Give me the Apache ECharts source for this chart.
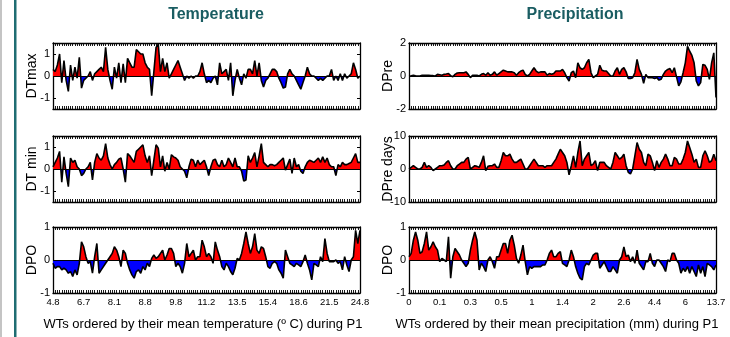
<!DOCTYPE html>
<html><head><meta charset="utf-8">
<script src="https://cdn.jsdelivr.net/npm/echarts@6/dist/echarts.min.js"></script>
<style>html,body{margin:0;padding:0;background:#fff}#c{width:730px;height:337px}</style>
</head><body><div id="c"></div>
<script>
const tempLabels = ['4.8','6.7','8.1','8.8','9.8','11.2','13.5','15.4','18.6','21.5','24.8'];
const precLabels = ['0','0.1','0.3','0.5','1','1.4','2','2.6','4.4','6','13.7'];

const dtmax = [0.3,0.2,0.5,1.0,-0.3,0.7,-0.2,-0.7,0.5,-0.2,0.4,-0.1,0.85,-0.55,-0.2,-0.1,0,0.2,-0.2,0.1,
0.2,0.3,0.4,0.2,1.3,0.3,-0.2,-0.6,0.4,-0.1,0.6,-0.3,0.55,-0.3,0.8,0.6,0.4,0.4,1.2,1.1,
1.0,1.0,0.6,0.4,0.3,-0.9,0.2,1.3,1.45,0.2,0.8,0.2,0.6,-0.1,0.1,0.3,0.5,0.7,0.4,0.1,
-0.2,0,-0.1,0,-0.1,0,0,0.2,0.6,0.1,-0.3,-0.2,-0.3,-0.1,0,-0.4,0.6,0.1,0.2,0.3,
-0.2,0.6,-0.9,-0.2,0.3,-0.1,-0.4,0.1,-0.1,0.3,0.3,0.1,0.7,0,0.6,-0.2,-0.5,-0.2,-0.1,0.1,
0.3,0.3,0.2,-0.1,-0.3,-0.55,-0.5,0.1,0.3,0.1,0,-0.2,-0.4,-0.6,-0.3,0,0.4,0.1,0,0,
-0.1,-0.2,-0.1,-0.2,-0.1,0,0,0.3,-0.2,0,-0.2,0.1,-0.2,0.1,-0.1,0,0.1,0.6,0.3,-0.1,0];

const dtmin = [0.1,0.3,0.5,0.8,-0.6,0.55,-0.2,-0.8,0.5,0.3,0.4,0.1,0,-0.3,-0.2,0,0.1,0.3,-0.5,0.3,
0.7,0.5,0.4,0.6,1.15,0.5,0.2,0,0.2,0.3,0.45,0.5,0,-0.6,0.7,0.6,0.45,0.3,0.8,0.9,
1.0,1.1,0.6,0.3,0.6,-0.3,0.4,1.1,0.95,0.1,0.6,-0.1,0.3,0,0.65,0.55,0.5,0.4,0.1,0,
-0.1,-0.4,0.1,0.45,0.4,0.1,0.4,0.2,0.3,0.4,0.1,-0.3,0.1,0.4,0.45,0.2,0.1,0.4,0.1,0.2,
0.5,0.3,0.1,0.5,0.1,0.1,-0.1,-0.55,-0.5,0.6,0.3,0.5,0.75,0.1,0.6,1.15,0.3,0.2,0.1,0.2,
0.2,0.15,0.2,0.3,0.4,0.5,-0.05,0.2,0.45,-0.2,0.5,0.1,0.2,-0.1,-0.2,0.1,0.3,0.4,0.35,0.3,
0.4,0.5,0.3,0.55,0.3,0.5,0.2,0.1,0.1,-0.3,0.2,0.1,0.3,0.2,0.2,0.25,0.3,0.5,0.7,0.3,0.3];

const dpoTemp = [-0.1,-0.25,-0.2,-0.2,-0.3,-0.25,-0.3,-0.4,-0.35,-0.5,-0.3,-0.45,-0.1,0.55,0.4,0.1,-0.1,-0.05,-0.4,0.1,
0.5,-0.4,-0.3,-0.2,-0.1,0,0.1,0.2,0.4,0.3,0.1,-0.2,0.3,0.2,-0.1,-0.3,-0.45,-0.55,-0.35,-0.3,
-0.4,-0.2,-0.3,-0.1,-0.2,0.05,0.15,0.05,0.1,0.2,0.3,0,0.15,0.35,0.35,0.2,-0.2,-0.1,-0.2,-0.4,
-0.1,0.5,0.1,0.2,0.3,0,0.1,0.1,0.6,0.4,0.1,0.2,0.1,-0.1,0.55,0.3,0.1,-0.2,-0.3,-0.1,
-0.2,-0.35,-0.45,-0.25,0.05,0,0.2,0.5,0.85,0.5,0.2,0.4,0.8,0.3,0.2,0.4,0.35,0.1,-0.2,-0.25,
-0.1,-0.05,-0.1,-0.3,-0.4,-0.55,0.3,0.1,-0.1,-0.15,-0.2,-0.1,-0.15,-0.2,-0.05,0.15,-0.1,-0.3,-0.6,-0.1,
-0.15,-0.2,0.1,-0.05,0.65,0.2,-0.05,-0.05,-0.05,0,-0.1,-0.05,-0.3,0.1,-0.15,-0.35,0,0.1,0.9,0.5,0.9];

const dpre = [0,0.02,0.05,0.02,0,0,0.05,0.05,0.04,0.05,0.03,0.02,0,0.1,0.08,0.05,0.1,0.12,0.15,0.02,
-0.05,0.1,0.18,0.2,0.2,0.2,0.25,0.1,-0.1,0.05,0.05,0.05,0,0.1,0.15,0.05,0.2,0.05,0.1,0.25,
0.05,0.15,0.25,0.35,0.3,0.25,0.25,0.25,0.2,0.05,0.2,0.3,0.35,0.1,0,0.1,0.3,0.5,0.3,0.2,
0.25,0.25,0.25,0.05,0.15,0.1,0.15,0.3,0.3,0.3,0.4,0.2,-0.1,-0.3,0.2,0.3,-0.1,0.8,0.5,0.4,
0.5,0.8,1.0,0.2,-0.1,0,0.1,0.65,0.35,0.3,0.3,0.15,0,0,0.3,0.5,0.1,0.4,0.5,0.25,
-0.15,-0.15,-0.1,0.2,1.0,0.4,0.1,-0.45,0.1,-0.1,-0.1,-0.1,-0.15,-0.1,-0.25,-0.2,0.1,0.3,0.4,0.45,
0.2,0.5,-0.05,-0.6,-0.35,0.2,0.8,1.8,1.5,1.25,0.8,-0.3,-0.6,-0.4,0.7,0.65,0.4,-0.2,0.8,1.4,-1.3];

const dpreDays = [0,0.5,1,0.5,0,0,0.5,2,0.5,1,0.5,-0.5,0,0.5,1,1,1.2,2,2.5,1,
0,0,1,1.5,2,2,3,3.5,0,0.5,1,0.8,0.5,2,4,-0.5,0.8,1,1,1.5,
0.5,0.5,2.5,5,4,4,4.5,3,2,2,2.5,3,1.5,0,0,1,2,3,2,1,
1,1,0.5,1,1,1,2,3,4.5,6,5,4,2,-1.8,1,4,0.5,5,8.5,1,
3,4,5,1,1.5,2.5,-0.5,2,2,2,1,0.5,0,2,5,4,3,3.5,4.5,1,
-1,-1.5,0,4,8,6,5,2,1,4.5,4,2,-0.5,2.5,0.5,2,3,4.5,3,1,
1,3.5,3,1.5,1.5,3,5,8.5,6.5,4.5,2,3,0.5,0.5,4,5.5,4,2,2.5,4.5,2.5];

const dpoPrec = [0.1,0.2,0.6,0.85,0.6,0.2,0.25,0.5,0.85,0.3,0.4,0.55,0.4,0.3,-0.05,0.05,0,-0.05,0.7,-0.55,
0.1,0.35,0.25,0.15,0,-0.1,-0.2,-0.1,0.3,0.6,0.85,0.6,-0.3,-0.1,-0.2,-0.35,0,0.1,-0.05,-0.25,
0.1,0.1,0.3,0.5,0.5,0.2,0.6,0.75,0.45,0.05,-0.1,0.15,0.45,-0.05,-0.45,-0.2,-0.25,-0.2,-0.2,-0.2,
-0.2,-0.15,-0.15,0,0.2,0.3,0.1,0.1,0.2,0.25,-0.1,-0.15,-0.2,0,0.3,0.1,-0.2,-0.4,-0.55,-0.6,
-0.2,-0.1,-0.15,0,0.15,0.2,0.2,-0.25,-0.15,-0.05,-0.2,-0.35,-0.35,-0.2,-0.3,-0.4,0,0.1,0.4,0.1,
0.15,-0.05,0.1,-0.1,0.3,-0.1,-0.2,-0.3,-0.05,-0.05,0.2,-0.1,-0.2,0,0,-0.1,-0.2,-0.35,0,-0.05,
0.2,0.2,0,-0.1,-0.4,-0.25,-0.35,-0.2,-0.4,-0.2,-0.35,-0.5,-0.15,-0.4,-0.2,-0.5,-0.1,-0.15,-0.2,-0.3,-0.15];

const panels = [
  {data: dtmax,    name: 'DTmax',     min: -1.5, max: 1.5, ticks: [-1,0,1],   col: 0, row: 0},
  {data: dtmin,    name: 'DT min',    min: -1.5, max: 1.5, ticks: [-1,0,1],   col: 0, row: 1},
  {data: dpoTemp,  name: 'DPO',       min: -1,   max: 1,   ticks: [-1,0,1],   col: 0, row: 2},
  {data: dpre,     name: 'DPre',      min: -2,   max: 2,   ticks: [-2,0,2],   col: 1, row: 0},
  {data: dpreDays, name: 'DPre days', min: -10,  max: 10,  ticks: [-10,0,10], col: 1, row: 1},
  {data: dpoPrec,  name: 'DPO',       min: -1,   max: 1,   ticks: [-1,0,1],   col: 1, row: 2}
];
const colLabels = [tempLabels, precLabels];
const lefts = [53, 409], tops = [43, 136, 227], W = 307, H = 66;
const cats = dtmax.map((_, i) => i);
const narrow = "'Liberation Sans Narrow', 'Liberation Sans', Arial, sans-serif";
const sans = "'Liberation Sans', Arial, sans-serif";

const grid = [], xAxis = [], yAxis = [], series = [];
panels.forEach((p, k) => {
  const top = tops[p.row];
  grid.push({left: lefts[p.col], top: top, width: W, height: H, containLabel: false, outerBoundsMode: 'none'});
  const labels = colLabels[p.col];
  const axLine = {show: true, onZero: false, lineStyle: {color: '#000', width: 1.3}};
  xAxis.push({
    type: 'category', gridIndex: k, data: cats, boundaryGap: false, position: 'bottom',
    axisLine: axLine,
    axisTick: {show: true, inside: true, interval: 0, length: 3, lineStyle: {color: '#000', width: 0.9}},
    axisLabel: p.row === 2 ? {show: true, interval: 13, margin: 4, color: '#000', fontSize: 9.5, fontFamily: narrow,
      formatter: (v, i) => labels[Math.round(i / 14)]} : {show: false},
    splitLine: {show: false}
  });
  xAxis.push({
    type: 'category', gridIndex: k, data: cats, boundaryGap: false, position: 'top',
    axisLine: axLine,
    axisTick: {show: true, inside: true, interval: 0, length: 3, lineStyle: {color: '#000', width: 0.9}},
    axisLabel: {show: false}, splitLine: {show: false}
  });
  yAxis.push({
    type: 'value', gridIndex: k, min: p.min, max: p.max, position: 'left',
    name: p.name, nameLocation: 'middle', nameGap: 14, nameMoveOverlap: false,
    nameTextStyle: {fontSize: 14, color: '#000', fontFamily: sans},
    axisLine: axLine,
    axisTick: {show: true, inside: true, length: 3, customValues: p.ticks, lineStyle: {color: '#000'}},
    axisLabel: {show: true, customValues: p.ticks, margin: 3, color: '#000', fontSize: 11, fontFamily: narrow},
    splitLine: {show: false}
  });
  yAxis.push({
    type: 'value', gridIndex: k, min: p.min, max: p.max, position: 'right',
    axisLine: axLine,
    axisTick: {show: true, inside: true, length: 3, customValues: p.ticks, lineStyle: {color: '#000'}},
    axisLabel: {show: false}, splitLine: {show: false}
  });
  // zero position as a fraction of the axis extent (top -> bottom)
  const f = p.max / (p.max - p.min);
  const fill = new echarts.graphic.LinearGradient(0, top, 0, top + H, [
    {offset: 0, color: '#ff0000'}, {offset: f, color: '#ff0000'},
    {offset: f, color: '#0000ff'}, {offset: 1, color: '#0000ff'}
  ], true);
  series.push({
    type: 'line', xAxisIndex: 2 * k, yAxisIndex: 2 * k, data: p.data,
    showSymbol: false, symbol: 'none', silent: true,
    lineStyle: {color: '#000', width: 1.6},
    areaStyle: {color: fill, opacity: 1, origin: 0},
    markLine: {silent: true, symbol: 'none', label: {show: false}, animation: false,
      lineStyle: {color: '#000', width: 1.1, type: 'solid'}, data: [{yAxis: 0}]}
  });
});

const chart = echarts.init(document.getElementById('c'), null, {renderer: 'canvas'});
chart.setOption({
  animation: false,
  backgroundColor: '#fff',
  grid, xAxis, yAxis, series,
  graphic: [
    {type: 'rect', shape: {x: 0, y: 0, width: 2, height: 337}, style: {fill: '#c4c4c4'}, silent: true},
    {type: 'rect', shape: {x: 14, y: 0, width: 2.5, height: 337}, style: {fill: '#1f6d72'}, silent: true},
    {type: 'text', x: 216, y: 15, silent: true, style: {text: 'Temperature', font: 'bold 16px ' + sans, fill: '#1a5d62', align: 'center', verticalAlign: 'middle', textAlign: 'center', textVerticalAlign: 'middle'}},
    {type: 'text', x: 575, y: 15, silent: true, style: {text: 'Precipitation', font: 'bold 16px ' + sans, fill: '#1a5d62', align: 'center', verticalAlign: 'middle', textAlign: 'center', textVerticalAlign: 'middle'}},
    {type: 'text', x: 203, y: 324, silent: true, style: {text: 'WTs ordered by their mean temperature (º C) during P1', font: '13px ' + sans, fill: '#000', align: 'center', verticalAlign: 'middle', textAlign: 'center', textVerticalAlign: 'middle'}},
    {type: 'text', x: 557, y: 324, silent: true, style: {text: 'WTs ordered by their mean precipitation (mm) during P1', font: '13px ' + sans, fill: '#000', align: 'center', verticalAlign: 'middle', textAlign: 'center', textVerticalAlign: 'middle'}}
  ]
});
</script></body></html>
